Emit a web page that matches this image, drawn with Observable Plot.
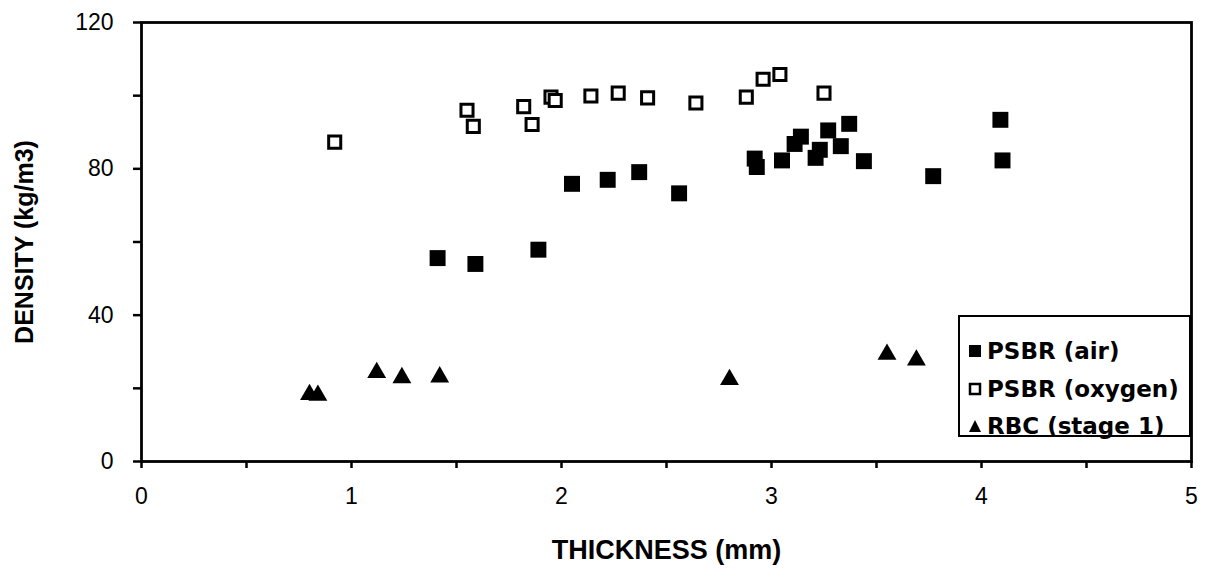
<!DOCTYPE html>
<html>
<head>
<meta charset="utf-8">
<script src="https://cdn.jsdelivr.net/npm/d3@7"></script>
<script src="https://cdn.jsdelivr.net/npm/@observablehq/plot@0.6"></script>
<style>
  body { margin: 0; background: #fff; }
  #wrap { position: relative; width: 1211px; height: 575px; overflow: hidden; }
  g[aria-label="x-axis label"] text {
    font-weight: bold; font-size: 27px; font-family: "Liberation Sans", Arial, sans-serif;
  }
  g[aria-label="y-axis label"] text {
    font-weight: bold; font-size: 25px; font-family: "Liberation Sans", Arial, sans-serif;
  }
  g[aria-label="x-axis tick label"] text, g[aria-label="y-axis tick label"] text {
    font-size: 23px;
  }
  #legend {
    position: absolute; left: 958px; top: 315px; width: 229px; height: 118px;
    border: 2.5px solid #000; background: #fff;
    font-family: "DejaVu Sans", sans-serif; font-weight: bold; font-size: 23px; color: #000;
  }
  #legend .row { position: absolute; left: 8px; height: 30px; display: flex; align-items: center; white-space: nowrap; }
  #legend svg { margin-right: 5px; }
</style>
</head>
<body>
<div id="wrap"></div>
<script>
// Data
const seriesNames = ["PSBR (air)", "PSBR (oxygen)", "RBC (stage 1)"];

const airX = [1.41, 1.59, 1.89, 2.05, 2.22, 2.37, 2.56, 2.92, 2.93, 3.05, 3.11, 3.14, 3.21, 3.23, 3.27, 3.33, 3.37, 3.44, 3.77, 4.09, 4.10];
const airY = [55.6, 54.0, 57.9, 75.9, 77.0, 79.1, 73.3, 82.8, 80.5, 82.3, 86.8, 88.8, 83.0, 85.2, 90.5, 86.2, 92.3, 82.1, 78.0, 93.4, 82.3];

const oxyX = [0.92, 1.55, 1.58, 1.82, 1.86, 1.95, 1.97, 2.14, 2.27, 2.41, 2.64, 2.88, 2.96, 3.04, 3.25];
const oxyY = [87.3, 96.0, 91.6, 97.0, 92.1, 99.6, 98.7, 99.9, 100.7, 99.4, 98.0, 99.6, 104.5, 105.8, 100.7];

const rbcX = [0.80, 0.84, 1.12, 1.24, 1.42, 2.80, 3.55, 3.69];
const rbcY = [18.3, 18.1, 24.3, 22.9, 23.1, 22.4, 29.3, 27.7];

const xTicks = [0, 0.5, 1, 1.5, 2, 2.5, 3, 3.5, 4, 4.5, 5];
const yTicks = [0, 20, 40, 60, 80, 100, 120];
const xLabel = "THICKNESS (mm)";
const yLabel = "DENSITY (kg/m3)";

const toRows = (xs, ys) => xs.map((x, i) => ({x, y: ys[i]}));
const air = toRows(airX, airY);
const oxy = toRows(oxyX, oxyY);
const rbc = toRows(rbcX, rbcY);

const chart = Plot.plot({
  width: 1211,
  height: 575,
  marginLeft: 141,
  marginRight: 20,
  marginTop: 22,
  marginBottom: 114,
  style: {fontFamily: "Liberation Sans, Arial, sans-serif", fontSize: "23px", color: "#000", background: "#fff", overflow: "visible"},
  x: {domain: [0, 5]},
  y: {domain: [0, 120]},
  marks: [
    Plot.axisX({ticks: xTicks, tickFormat: d => Number.isInteger(d) ? String(d) : "", tickSize: 7, tickPadding: 19, strokeWidth: 2.5, fontSize: 23,
      label: xLabel, labelAnchor: "center", labelOffset: 97, labelArrow: "none"}),
    Plot.axisY({ticks: yTicks, tickFormat: d => d % 40 === 0 ? String(d) : "", tickSize: 8, tickPadding: 20, strokeWidth: 2.5, fontSize: 23,
      label: yLabel, labelAnchor: "center", labelOffset: 126, labelArrow: "none"}),
    Plot.frame({stroke: "#000", strokeWidth: 2.8}),
    Plot.dot(oxy, {x: "x", y: "y", symbol: "square", stroke: "#000", strokeWidth: 3, fill: "#fff", r: 6.8}),
    Plot.dot(air, {x: "x", y: "y", symbol: "square", fill: "#000", r: 9}),
    Plot.dot(rbc, {x: "x", y: "y", symbol: "triangle", fill: "#000", r: 7})
  ]
});
const wrap = document.getElementById("wrap");
wrap.appendChild(chart);

// Legend (HTML overlay)
const legend = document.createElement("div");
legend.id = "legend";
const symbols = [
  '<svg width="14" height="14"><rect x="1" y="1" width="12" height="12" fill="#000"/></svg>',
  '<svg width="14" height="14"><rect x="2" y="2" width="10" height="10" fill="#fff" stroke="#000" stroke-width="2.5"/></svg>',
  '<svg width="14" height="14"><path d="M7,1 L13,13 L1,13 Z" fill="#000"/></svg>'
];
const rowTops = [19, 57, 94];
seriesNames.forEach((name, i) => {
  const row = document.createElement("div");
  row.className = "row";
  row.style.top = rowTops[i] + "px";
  row.innerHTML = symbols[i] + "<span>" + name + "</span>";
  legend.appendChild(row);
});
wrap.appendChild(legend);
</script>
</body>
</html>
